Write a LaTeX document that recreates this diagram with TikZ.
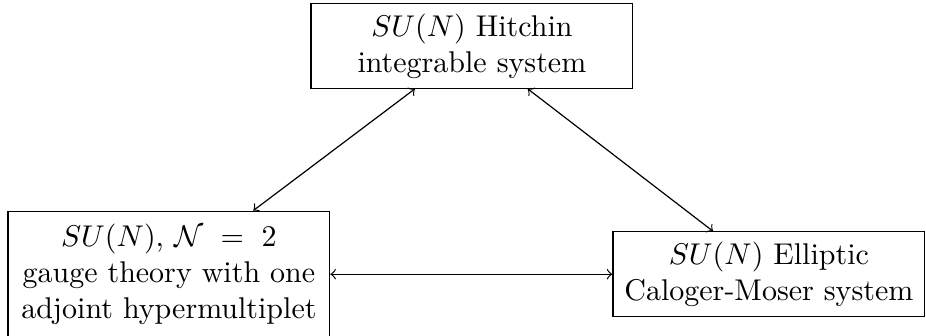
\documentclass[tikz,border=0pt]{standalone}
\usepackage{amsmath}
\begin{document}
\begin{tikzpicture}[x=1pt,y=1pt,
  boxnode/.style={draw, align=center, inner sep=3.33pt, font=\normalsize},
  link/.style={<->}]
\useasboundingbox (0,0) rectangle (308.67,112);
\node[boxnode, text width=100.6pt] (top) at (157.3,96.7) {$SU(N)$ Hitchin\\ integrable system};
\node[boxnode, text width=100.6pt, minimum height=42pt] (left) at (56.3,20.6) {$SU(N)$, $\mathcal{N}\mkern2mu=\mkern2mu2$\\ gauge theory with one\\ adjoint hypermultiplet};
\node[boxnode, text width=97.3pt] (right) at (256.3,20.6) {$SU(N)$ Elliptic\\ Caloger-Moser system};
\draw[link] (top) -- (left);
\draw[link] (top) -- (right);
\draw[link] (left) -- (right);
\end{tikzpicture}
\end{document}
